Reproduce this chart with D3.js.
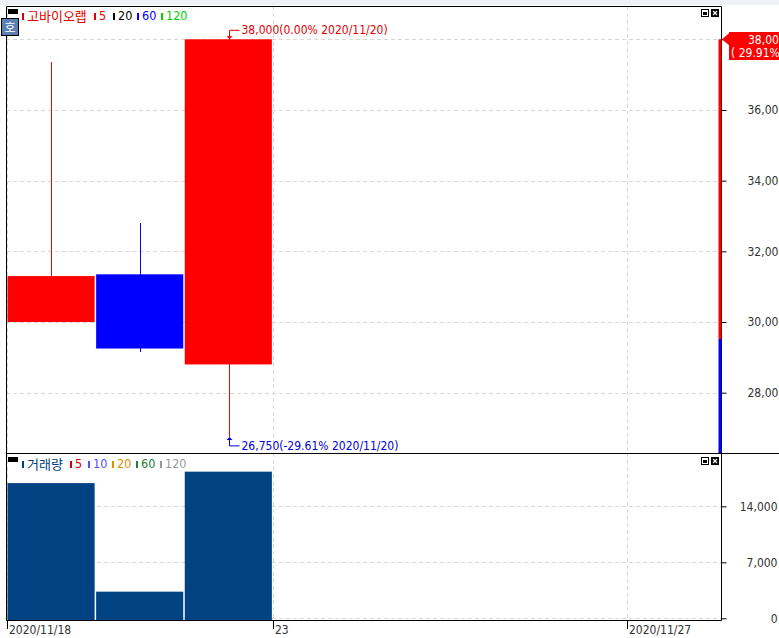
<!DOCTYPE html>
<html>
<head>
<meta charset="utf-8">
<script src="https://cdn.jsdelivr.net/npm/d3@7"></script>
<style>
  body { margin: 0; background: #fff; }
  svg text { font-family: "DejaVu Sans Condensed", "DejaVu Sans", sans-serif; }
  .kr { font-family: "Noto Sans CJK KR", sans-serif; }
</style>
</head>
<body>
<svg id="chart"></svg>
<script>
// trading days shown on the x axis
const dates = ['2020/11/18', '2020/11/19', '2020/11/20', '2020/11/23', '2020/11/24', '2020/11/25', '2020/11/26', '2020/11/27'];
// candles (only first three days have trades)
const candleDates = ['2020/11/18', '2020/11/19', '2020/11/20'];
const opens = [30000, 31350, 28800];
const highs = [37350, 32800, 38000];
const lows = [30000, 29150, 26750];
const closes = [31300, 29250, 38000];
const volumes = [16900, 3330, 18330];

const priceTicks = [28000, 30000, 32000, 34000, 36000, 38000];
const volumeTicks = [0, 7000, 14000];
const dateTicks = ['2020/11/18', '2020/11/23', '2020/11/27'];
const dateTickLabels = ['2020/11/18', '23', '2020/11/27'];

const lastPrice = 38000;
const changePct = 29.91;
const splitPrice = 29520; // where the right side bar turns from blue to red

const priceLegend = [{ t: '5', c: '#e00000' }, { t: '20', c: '#000' }, { t: '60', c: '#0000ff' }, { t: '120', c: '#00d000' }];
const volumeLegend = [{ t: '5', c: '#d00000' }, { t: '10', c: '#5050ff' }, { t: '20', c: '#e09000' }, { t: '60', c: '#208040' }, { t: '120', c: '#999' }];

const width = 779, height = 638;
const left = 6, right = 721;
const priceTop = 6, priceBottom = 453;
const volBottom = 620;

const svg = d3.select('#chart').attr('width', width).attr('height', height);

// light band along the top
svg.append('rect').attr('x', 0).attr('y', 0).attr('width', width).attr('height', 5).attr('fill', '#eef1f6');

const x = d3.scaleBand().domain(dates).range([7, 716]).padding(0);
const yP = d3.scaleLinear().domain([28000, 38000]).range([392.7, 39.3]);
const yV = d3.scaleLinear().domain([0, 14000]).range([618.3, 506.3]);

const candles = candleDates.map((d, i) => ({ date: d, o: opens[i], h: highs[i], l: lows[i], c: closes[i], v: volumes[i] }));

// clip paths for the two panels
const defs = svg.append('defs');
defs.append('clipPath').attr('id', 'clipP').append('rect')
    .attr('x', left + 1).attr('y', priceTop + 1).attr('width', right - left - 1).attr('height', priceBottom - priceTop - 1);
defs.append('clipPath').attr('id', 'clipV').append('rect')
    .attr('x', left + 1).attr('y', priceBottom + 1).attr('width', right - left - 1).attr('height', volBottom - priceBottom - 1);

const gridStyle = sel => sel.attr('stroke', '#d8d8d8').attr('stroke-width', 1).attr('stroke-dasharray', '4,3');

// ---- price panel ----
const gP = svg.append('g').attr('clip-path', 'url(#clipP)');

gP.selectAll('.hgrid').data(priceTicks).enter().append('line')
    .attr('x1', left).attr('x2', right)
    .attr('y1', d => Math.round(yP(d)) + 0.5).attr('y2', d => Math.round(yP(d)) + 0.5)
    .call(gridStyle);

gP.selectAll('.vgrid').data(dateTicks).enter().append('line')
    .attr('x1', d => Math.round(x(d)) + 0.5).attr('x2', d => Math.round(x(d)) + 0.5)
    .attr('y1', priceTop).attr('y2', priceBottom)
    .call(gridStyle);

const colorOf = d => d.c >= d.o ? '#ff0000' : '#0000ff';

gP.selectAll('.wick').data(candles).enter().append('rect')
    .attr('x', d => Math.round(x(d.date) + x.bandwidth() / 2))
    .attr('width', 1)
    .attr('y', d => yP(d.h)).attr('height', d => yP(d.l) - yP(d.h))
    .attr('fill', colorOf)
    .attr('shape-rendering', 'crispEdges');

gP.selectAll('.body').data(candles).enter().append('rect')
    .attr('x', d => x(d.date) + 0.5)
    .attr('width', x.bandwidth() - 1.5)
    .attr('y', d => yP(Math.max(d.o, d.c)))
    .attr('height', d => Math.abs(yP(d.o) - yP(d.c)))
    .attr('fill', colorOf);

// high / low annotations
const hiC = candles.reduce((a, b) => b.h > a.h ? b : a);
const loC = candles.reduce((a, b) => b.l < a.l ? b : a);
const hx = Math.round(x(hiC.date) + x.bandwidth() / 2) + 0.5;
const lx = Math.round(x(loC.date) + x.bandwidth() / 2) + 0.5;
const hy = yP(hiC.h), ly = yP(loC.l);
const fmt = d3.format(',');
const pct = v => ((v - lastPrice) / lastPrice * 100).toFixed(2);

svg.append('path').attr('d', `M${hx + 10},${hy - 9} H${hx} V${hy - 2}`).attr('fill', 'none').attr('stroke', '#e00000');
svg.append('path').attr('d', `M${hx - 3},${hy - 3} L${hx + 3},${hy - 3} L${hx},${hy} Z`).attr('fill', '#e00000');
svg.append('text').attr('x', hx + 12).attr('y', hy - 5).attr('fill', '#e00000').attr('font-size', 12)
    .text(`${fmt(hiC.h)}(${pct(hiC.h)}% ${hiC.date})`);

svg.append('path').attr('d', `M${lx + 10},${ly + 9} H${lx} V${ly + 2}`).attr('fill', 'none').attr('stroke', '#0000e0');
svg.append('path').attr('d', `M${lx - 3},${ly + 3} L${lx + 3},${ly + 3} L${lx},${ly} Z`).attr('fill', '#0000e0');
svg.append('text').attr('x', lx + 12).attr('y', ly + 13).attr('fill', '#0000e0').attr('font-size', 12)
    .text(`${fmt(loC.l)}(${pct(loC.l)}% ${loC.date})`);

// ---- volume panel ----
const gV = svg.append('g').attr('clip-path', 'url(#clipV)');

gV.selectAll('.hgrid').data(volumeTicks).enter().append('line')
    .attr('x1', left).attr('x2', right)
    .attr('y1', d => Math.round(yV(d)) + 0.5).attr('y2', d => Math.round(yV(d)) + 0.5)
    .call(gridStyle);

gV.selectAll('.vgrid').data(dateTicks).enter().append('line')
    .attr('x1', d => Math.round(x(d)) + 0.5).attr('x2', d => Math.round(x(d)) + 0.5)
    .attr('y1', priceBottom).attr('y2', volBottom)
    .call(gridStyle);

gV.selectAll('.vbar').data(candles).enter().append('rect')
    .attr('x', d => x(d.date) + 0.5)
    .attr('width', x.bandwidth() - 1.5)
    .attr('y', d => yV(d.v))
    .attr('height', d => yV(0) - yV(d.v) + 2)
    .attr('fill', '#004282');

// ---- frames ----
svg.append('path')
    .attr('d', `M${left + 0.5},${priceTop + 0.5} H${right + 0.5} V${volBottom + 0.5} H${left + 0.5} Z`)
    .attr('fill', 'none').attr('stroke', '#000');
svg.append('line').attr('x1', left).attr('x2', width).attr('y1', priceBottom + 0.5).attr('y2', priceBottom + 0.5)
    .attr('stroke', '#000');

// ---- right axes ----
const axP = svg.append('g').attr('transform', `translate(${right + 0.5},0)`)
    .call(d3.axisRight(yP).tickValues(priceTicks).tickSize(5).tickFormat(d3.format(',')));
axP.select('.domain').remove();
axP.selectAll('line').attr('stroke', '#000');
axP.selectAll('text').attr('x', 26).attr('text-anchor', 'start').attr('font-size', 12).attr('fill', '#333')
    .style('font-family', '"DejaVu Sans Condensed", sans-serif');

const axV = svg.append('g').attr('transform', `translate(${right + 0.5},0)`)
    .call(d3.axisRight(yV).tickValues(volumeTicks).tickSize(5).tickFormat(d3.format(',')));
axV.select('.domain').remove();
axV.selectAll('line').attr('stroke', '#000');
axV.selectAll('text').attr('x', 56).attr('text-anchor', 'end').attr('font-size', 12).attr('fill', '#333')
    .style('font-family', '"DejaVu Sans Condensed", sans-serif');

// ---- bottom axis ----
const axX = svg.append('g').attr('transform', `translate(0,${volBottom})`);
axX.selectAll('line').data(dateTicks).enter().append('line')
    .attr('x1', d => Math.round(x(d)) + 0.5).attr('x2', d => Math.round(x(d)) + 0.5)
    .attr('y1', 0).attr('y2', 9).attr('stroke', '#000');
axX.selectAll('text').data(dateTicks).enter().append('text')
    .attr('x', d => Math.round(x(d)) + 2).attr('y', 14).attr('font-size', 12).attr('fill', '#333')
    .text((d, i) => dateTickLabels[i]);

// right side price bar (blue below split, red above)
svg.append('rect').attr('x', 718.5).attr('width', 3).attr('y', yP(splitPrice)).attr('height', priceBottom - yP(splitPrice))
    .attr('fill', '#0000ff');
svg.append('rect').attr('x', 718.5).attr('width', 3).attr('y', yP(lastPrice)).attr('height', yP(splitPrice) - yP(lastPrice))
    .attr('fill', '#ff0000');

// last price label
const ly0 = yP(lastPrice);
svg.append('path').attr('d', `M722,${ly0} L729,${ly0 - 6} L729,${ly0 + 6} Z`).attr('fill', '#ff0000');
svg.append('rect').attr('x', 729).attr('y', 32).attr('width', 50).attr('height', 28).attr('fill', '#ff0000');
svg.append('text').attr('x', 748).attr('y', 44).attr('fill', '#fff').attr('font-size', 12).text(fmt(lastPrice));
svg.append('text').attr('x', 731).attr('y', 57).attr('fill', '#fff').attr('font-size', 12).text(`( ${changePct.toFixed(2)}%)`);

// ---- legends ----
function legend(y0, title, titleColor, items, starts) {
    svg.append('rect').attr('x', 8).attr('y', y0 - 11).attr('width', 10).attr('height', 5).attr('fill', '#000');
    svg.append('rect').attr('x', 22).attr('y', y0 - 7).attr('width', 2).attr('height', 7).attr('fill', titleColor);
    svg.append('text').attr('class', 'kr').attr('x', 27).attr('y', y0 + 1).attr('font-size', 13)
        .attr('fill', titleColor).text(title);
    items.forEach((it, i) => {
        svg.append('rect').attr('x', starts[i]).attr('y', y0 - 7).attr('width', 2).attr('height', 7).attr('fill', it.c);
        svg.append('text').attr('x', starts[i] + 5).attr('y', y0).attr('font-size', 12.5).attr('fill', it.c).text(it.t);
    });
}
legend(20, '고바이오랩', '#e00000', priceLegend, [94, 113, 137, 161]);
legend(468, '거래량', '#004080', volumeLegend, [70, 88, 112, 136, 160]);

// "호" button
svg.append('rect').attr('x', 1.5).attr('y', 18.5).attr('width', 17).attr('height', 17)
    .attr('fill', '#5b80b2').attr('stroke', '#000');
svg.append('text').attr('class', 'kr').attr('x', 10).attr('y', 32).attr('text-anchor', 'middle')
    .attr('font-size', 12).attr('fill', '#fff').text('호');

// panel buttons
function buttons(y0) {
    svg.append('rect').attr('x', 701.5).attr('y', y0 + 0.5).attr('width', 7).attr('height', 7)
        .attr('fill', '#fff').attr('stroke', '#000');
    svg.append('rect').attr('x', 703).attr('y', y0 + 3).attr('width', 4).attr('height', 3).attr('fill', '#000');
    svg.append('rect').attr('x', 711).attr('y', y0).attr('width', 8).attr('height', 8).attr('fill', '#000');
    svg.append('path').attr('d', `M713,${y0 + 2} L717,${y0 + 6} M717,${y0 + 2} L713,${y0 + 6}`)
        .attr('stroke', '#fff').attr('stroke-width', 1.2);
}
buttons(9);
buttons(457);
</script>
</body>
</html>
